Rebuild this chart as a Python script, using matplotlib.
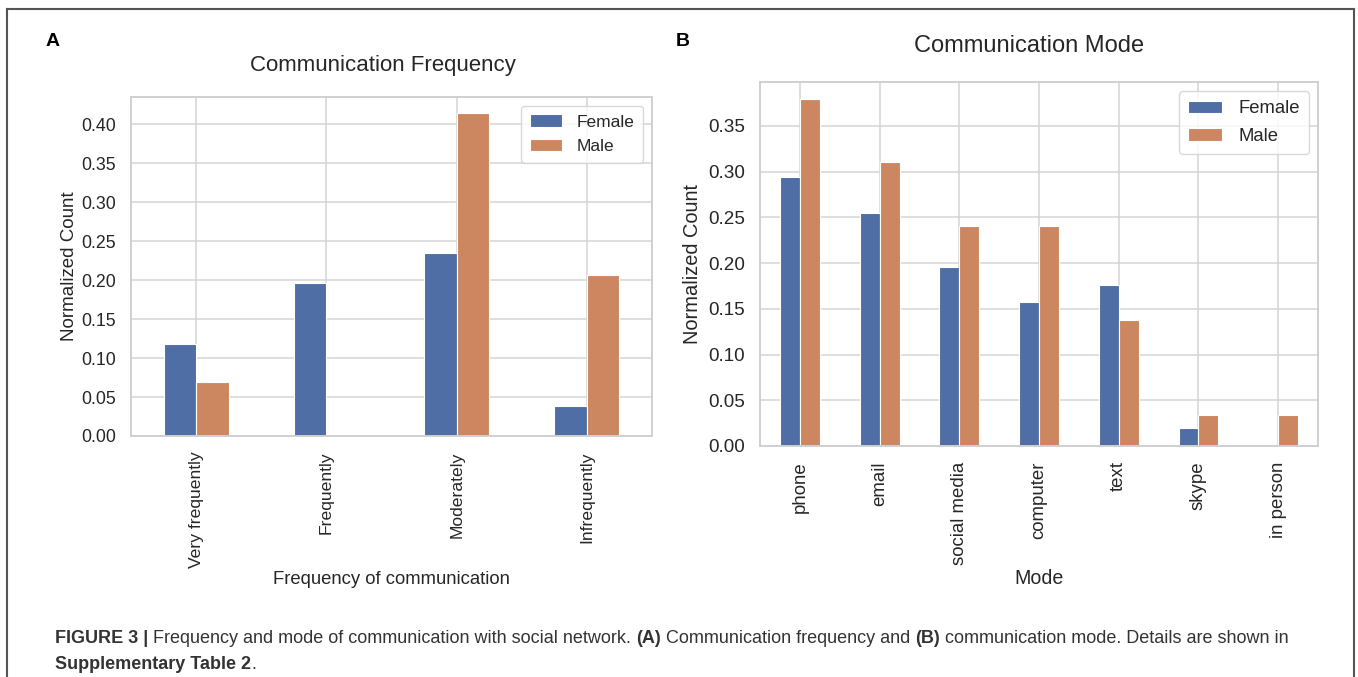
import matplotlib
matplotlib.use("Agg")
import matplotlib.pyplot as plt
import numpy as np
from matplotlib.lines import Line2D

# chart values
freq_cats = ["Very frequently", "Frequently", "Moderately", "Infrequently"]
freq_female = [0.118, 0.196, 0.235, 0.039]
freq_male = [0.069, 0.0, 0.414, 0.207]

mode_cats = ["phone", "email", "social media", "computer", "text", "skype", "in person"]
mode_female = [0.294, 0.255, 0.196, 0.157, 0.176, 0.020, 0.0]
mode_male = [0.379, 0.310, 0.241, 0.241, 0.138, 0.034, 0.034]

series_names = ["Female", "Male"]
colors = ["#4f6ea6", "#cd8760"]

plt.rcParams["font.family"] = ["Liberation Sans", "DejaVu Sans"]
txt = "#262626"

fig = plt.figure(figsize=(13.58, 6.77), dpi=100)
W, H = 1358, 677


def px_axes(left, top, right, bottom):
    return fig.add_axes([left / W, 1 - bottom / H, (right - left) / W, (bottom - top) / H])


# panel B was pasted in a bit larger than panel A, so its text is scaled up
def grouped_bars(ax, cats, female, male, title, xlabel, title_pad, k=1.0):
    x = np.arange(len(cats))
    w = 0.25
    ax.bar(x - w / 2, female, w, color=colors[0], edgecolor="white", linewidth=0.8, label=series_names[0], zorder=2)
    ax.bar(x + w / 2, male, w, color=colors[1], edgecolor="white", linewidth=0.8, label=series_names[1], zorder=2)
    ax.set_xlim(-0.5, len(cats) - 0.5)
    ax.set_xticks(x)
    ax.set_xticklabels(cats, rotation=90, fontsize=12.6 * k, color=txt)
    ax.tick_params(axis="y", labelsize=12.8 * k, labelcolor=txt)
    ax.tick_params(length=0, pad=11)
    ax.grid(True, color="#d4d4d4", linewidth=1.1, zorder=0)
    ax.set_axisbelow(True)
    for s in ax.spines.values():
        s.set_color("#d0d0d0")
        s.set_linewidth(1.4)
    ax.set_title(title, fontsize=16 * k, color=txt, pad=title_pad, x=0.483)
    ax.set_xlabel(xlabel, fontsize=13.3 * k, color=txt)
    ax.set_ylabel("Normalized Count", fontsize=13.5 * k, color=txt)
    leg = ax.legend(loc="upper right", fontsize=12.5 * k, frameon=True, handlelength=1.85,
                    handletextpad=0.85, labelspacing=0.55, borderpad=0.5)
    leg.get_frame().set_edgecolor("#d0d0d0")
    for t in leg.get_texts():
        t.set_color(txt)


ax_a = px_axes(131, 97, 652, 436)
grouped_bars(ax_a, freq_cats, freq_female, freq_male, "Communication Frequency",
             "Frequency of communication", 19)
ax_a.xaxis.labelpad = 2.2
ax_a.yaxis.labelpad = 2

ax_b = px_axes(760, 82, 1318, 446)
grouped_bars(ax_b, mode_cats, mode_female, mode_male, "Communication Mode", "Mode", 21.5, k=1.065)
ax_b.xaxis.labelpad = 3
ax_b.yaxis.labelpad = 4

# panel letters
fig.text(53 / W, 1 - 42 / H, "A", fontsize=14, fontweight="bold", ha="center", va="center", color="black")
fig.text(683 / W, 1 - 42 / H, "B", fontsize=14, fontweight="bold", ha="center", va="center", color="black")

# outer frame (open at the bottom)
fc = "#555555"
fig.add_artist(Line2D([7 / W, 7 / W], [0, 1 - 9 / H], color=fc, lw=1.5, transform=fig.transFigure))
fig.add_artist(Line2D([7 / W, 1354 / W], [1 - 9 / H, 1 - 9 / H], color=fc, lw=1.5, transform=fig.transFigure))
fig.add_artist(Line2D([1354 / W, 1354 / W], [0, 1 - 9 / H], color=fc, lw=1.5, transform=fig.transFigure))


# caption with mixed weights: each piece starts where the previous one ends
def caption(pieces, x, y, size=12.97):
    cap = "#333333"
    prev = fig.text(x, y, pieces[0][0], fontsize=size, fontweight=pieces[0][1], color=cap,
                    ha="left", va="bottom")
    for s, wgt in pieces[1:]:
        prev = plt.annotate(s, xy=(1, 0), xycoords=prev, fontsize=size, fontweight=wgt, color=cap,
                            ha="left", va="bottom", annotation_clip=False)


line1 = [
    ("FIGURE 3 | ", "bold"),
    ("Frequency and mode of communication with social network. ", "normal"),
    ("(A)", "bold"),
    (" Communication frequency and ", "normal"),
    ("(B)", "bold"),
    (" communication mode. Details are shown in", "normal"),
]
line2 = [
    ("Supplementary Table 2", "bold"),
    (".", "normal"),
]
caption(line1, 55 / W, 1 - 647 / H)
caption(line2, 55 / W, 1 - 673 / H)

fig.savefig("out.png", dpi=100)
